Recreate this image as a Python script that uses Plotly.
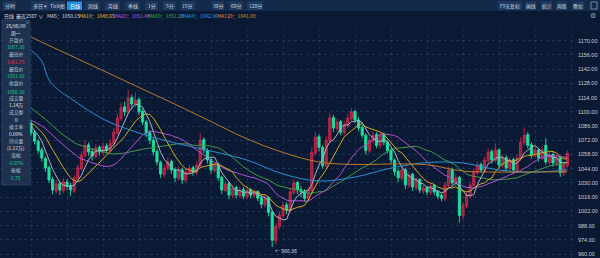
import pandas as pd
import plotly.graph_objects as go

# ---------------- data ----------------
history_close = [1148, 1144, 1139, 1135, 1130, 1126, 1121, 1117, 1112, 1108,
                 1104, 1100, 1097, 1095, 1093, 1096, 1094, 1091, 1090, 1088,
                 1092, 1095, 1090, 1093, 1088, 1091, 1087, 1085, 1088]

open_ = [1089, 1079.5, 1071, 1062.5, 1054, 1045, 1033.5, 1022, 1029.5, 1022.5,
         1031, 1027.5, 1022, 1034, 1044, 1057, 1067.5, 1061, 1056, 1065,
         1060, 1066.5, 1061.5, 1068.5, 1079, 1093.5, 1105, 1099.5, 1114, 1107,
         1112, 1100.5, 1090, 1079.5, 1072, 1061, 1050, 1038, 1044, 1051,
         1043, 1034.5, 1043, 1032.5, 1040, 1045, 1040, 1047, 1072.5, 1062,
         1053, 1042, 1048, 1035.5, 1022.5, 1029.5, 1017.5, 1025.5, 1017.5, 1023.5,
         1016.5, 1023.5, 1017.5, 1021.5, 1015.5, 1008.5, 1015.5, 1001, 973, 987,
         998, 1008.5, 1002.5, 1020.5, 1030.5, 1023.5, 1021, 1014.5, 1022.5, 1059.5,
         1075.5, 1065, 1046.5, 1071.5, 1094.5, 1083.5, 1090.5, 1079.5, 1086.5, 1093.5,
         1100.5, 1092, 1084.5, 1077, 1061.5, 1071.5, 1077.5, 1066.5, 1077.5, 1070,
         1062.5, 1052.5, 1041.5, 1034.5, 1043, 1027.5, 1038.5, 1025.5, 1033.5, 1022,
         1025.5, 1020.5, 1027.5, 1021.5, 1017.5, 1014.5, 1027.5, 1043, 1029.5, 1035.5,
         997.5, 1007.5, 1017.5, 1027.5, 1040, 1048, 1042, 1052, 1061, 1052,
         1062.5, 1047, 1055, 1044, 1053, 1042, 1054, 1069.5, 1077.5, 1067.5,
         1057, 1062.5, 1054, 1067, 1050, 1058, 1049, 1055, 1039.5, 1047]

high = [1092, 1082, 1073, 1065, 1056, 1047, 1036, 1033, 1032, 1035,
        1034, 1030, 1038, 1048, 1061, 1072, 1070, 1064, 1068, 1067,
        1070, 1069, 1073, 1084, 1098, 1109, 1110, 1121.5, 1117, 1119,
        1114, 1103, 1092, 1082, 1074, 1063, 1052, 1048, 1055, 1053,
        1045, 1046, 1045, 1044, 1048, 1047, 1051, 1079, 1075, 1064,
        1055, 1051, 1050, 1037, 1032, 1031, 1028, 1027, 1026, 1026,
        1026, 1025, 1024, 1023, 1018, 1018, 1017, 1003, 991, 1002,
        1012, 1011, 1025, 1034, 1032, 1027, 1024, 1026, 1065, 1080,
        1078, 1067, 1076, 1099, 1097, 1093, 1092, 1091, 1098, 1103.7,
        1102, 1095, 1087, 1079, 1075, 1081, 1080, 1080, 1080, 1072,
        1064, 1054, 1044, 1046, 1045, 1041, 1040, 1036, 1035, 1028,
        1027, 1030, 1029, 1023, 1020, 1031, 1046, 1045, 1038, 1037,
        1011, 1021, 1031, 1044, 1051, 1050, 1056, 1064, 1063, 1069,
        1064, 1058, 1057, 1056, 1055, 1058, 1075, 1084, 1080, 1070,
        1066, 1064, 1066, 1074, 1061, 1060, 1058, 1057, 1051, 1062]

low = [1076, 1068, 1059, 1051, 1041, 1030, 1019, 1019.5, 1018, 1020,
       1023, 1017, 1020, 1031, 1042, 1055, 1057, 1052, 1054, 1057,
       1058, 1059, 1060, 1066, 1077, 1091, 1096, 1098, 1103, 1105,
       1097, 1087, 1075, 1068, 1057, 1047, 1035, 1035, 1042, 1039,
       1031, 1032, 1029, 1030, 1038, 1037, 1038, 1045, 1059, 1049,
       1039, 1040, 1032, 1019, 1021, 1014, 1015, 1015, 1015, 1014,
       1014, 1015, 1015, 1012, 1005, 1006, 997, 966.86, 970, 984,
       995, 999, 1000, 1018, 1019, 1016, 1011, 1012, 1020, 1057,
       1061, 1044, 1045, 1069, 1080, 1081, 1077, 1077, 1084, 1091,
       1089, 1081, 1074, 1058, 1059, 1069, 1064, 1064, 1067, 1059,
       1049, 1037, 1031, 1032, 1024, 1025, 1022, 1023, 1020, 1019,
       1018, 1018, 1018, 1014, 1012, 1012, 1026, 1027, 1027, 991,
       994, 1005, 1015, 1025, 1038, 1040, 1040, 1050, 1049, 1050,
       1045, 1045, 1041, 1042, 1039, 1040, 1052, 1067, 1064, 1054,
       1055, 1051, 1052, 1048, 1048, 1046, 1047, 1036, 1037, 1045]

close = [1079, 1071, 1062, 1054.5, 1044.6, 1033, 1023, 1029, 1023, 1031,
         1027, 1023, 1035, 1045, 1057.5, 1067, 1060.5, 1056.5, 1064.5, 1060.5,
         1066, 1062, 1069, 1080, 1094, 1104, 1100, 1113.6, 1107.7, 1111.6,
         1100, 1090, 1079, 1072, 1060.5, 1050.6, 1038.8, 1044.6, 1050.6, 1042.7,
         1035, 1042.7, 1033, 1040.7, 1044.6, 1040.7, 1047.6, 1072, 1062.4, 1052.5,
         1042.7, 1047.6, 1035, 1023, 1029, 1018, 1025, 1018, 1023, 1017,
         1023, 1018, 1021, 1015, 1009, 1015, 1001, 973.6, 987.4, 998.3,
         1008, 1003, 1021, 1030, 1023, 1021, 1015, 1023, 1060, 1075,
         1065, 1047, 1072, 1094, 1084, 1090, 1080, 1087, 1094, 1100,
         1092, 1084, 1077, 1062, 1072, 1077, 1067, 1077, 1070, 1062,
         1052.5, 1041, 1035, 1042.7, 1028, 1038, 1026, 1033, 1023, 1025,
         1021, 1027, 1021, 1017, 1015, 1028, 1042.7, 1030, 1035, 998,
         1008, 1018, 1028, 1040.7, 1047.6, 1042.7, 1052.5, 1060.4, 1052.5, 1062.4,
         1047.6, 1054.5, 1044.6, 1052.5, 1042.7, 1054.5, 1070, 1077, 1067, 1057.5,
         1062.4, 1054.5, 1062.4, 1050.6, 1057.5, 1049.6, 1054.5, 1040, 1047.6, 1059]

ma60_idx = [0, 3, 5, 8, 10, 20, 30, 40, 50, 60, 70, 80, 90, 100, 110, 120, 130, 140, 149]
ma60_val = [1160.8, 1150.0, 1131.3, 1120.5, 1115.6, 1092.9, 1079.1, 1069.3, 1061.4, 1052.5,
            1038.8, 1031.9, 1035.8, 1044.6, 1050.1, 1049.6, 1042.7, 1040.7, 1043.0]
ma120_idx = [0, 10, 20, 30, 40, 50, 60, 70, 80, 90, 100, 110, 120, 130, 140, 149]
ma120_val = [1173.6, 1157.0, 1140.6, 1124.0, 1107.5, 1090.4, 1073.4, 1060.0, 1050.6, 1048.1,
             1048.6, 1047.9, 1041.7, 1040.7, 1040.7, 1041.1]

y_ticks = [960, 974, 988, 1002, 1016, 1030, 1044, 1058, 1072, 1086, 1100, 1114, 1128, 1142, 1156, 1170]

header_items = [("日线", "#d8dee6"), ("最近2507 ∨", "#d8dee6"), ("MA5：1050.15", "#d8dee6"),
                ("MA10：1048.65", "#e6c229"), ("MA20：1051.48", "#c455dd"),
                ("MA30：1051.28", "#46b04a"), ("MA60：1042.96", "#2b9be0"),
                ("MA120：1041.08", "#e0922a")]
header_x = [2, 14, 45, 77, 112, 146, 180, 215]

toolbar_left = ["分时", "多日 ▾", "Tick图", "日线", "周线", "月线", "季线", "1分", "5分", "15分", "30分", "60分", "120分"]
toolbar_left_x = [(3, 16), (31, 49), (50, 65), (67, 82), (85, 100), (105, 120), (125, 140),
                  (145, 158), (163, 176), (181, 195), (212, 224), (229, 243), (247, 263)]
toolbar_right = ["F9无复权", "画线", "统计", "两路", "叠加"]
toolbar_right_x = [(498, 522), (525, 536), (541, 552), (556, 567), (572, 584)]

info_rows = [("25/06/09", "#e8edf2"), ("周一", "#e8edf2"), ("开盘价", "#b8c2cc"), ("1057.30", "#1fd39a"),
             ("最高价", "#b8c2cc"), ("1061.75", "#e8334f"), ("最低价", "#b8c2cc"), ("1051.30", "#1fd39a"),
             ("收盘价", "#b8c2cc"), ("1056.30", "#1fd39a"), ("成交量", "#b8c2cc"), ("1.14万", "#e8edf2"),
             ("成交额", "#b8c2cc"), ("0", "#e8edf2"), ("换手率", "#b8c2cc"), ("0.00%", "#e8edf2"),
             ("持仓量", "#b8c2cc"), ("(1.12万)", "#e8edf2"), ("涨幅", "#b8c2cc"), ("-0.07%", "#1fd39a"),
             ("振幅", "#b8c2cc"), ("0.75", "#1fd39a")]
info_y = [25, 33, 40, 47, 54, 61.5, 68.5, 75.5, 83, 91, 98, 105, 112, 119, 126.5, 133,
          140.5, 148, 155, 162, 169.5, 177]

low_label = "← 966.86"

# ---------------- figure ----------------
W, H = 600, 258
ML, MR, MT, MB = 0, 26, 28, 0
PW, PH = W - ML - MR, H - MT - MB


def px(x):
    return (x - ML) / PW


def py(y):
    return (H - MB - y) / PH


n = len(close)
idx = list(range(n))
allc = pd.Series(history_close + close)
ma = {k: allc.rolling(k).mean().tolist()[-n:] for k in (5, 10, 20, 30)}

BG = "#0a1a35"
FONT = "Noto Sans CJK SC, Liberation Sans, sans-serif"

fig = go.Figure()
fig.add_trace(go.Candlestick(
    x=idx, open=open_, high=high, low=low, close=close,
    increasing=dict(line=dict(color="#c8284a", width=0.9), fillcolor="#a21f40"),
    decreasing=dict(line=dict(color="#1de0a0", width=0.9), fillcolor="#1de0a0"),
    whiskerwidth=0, hoverinfo="skip"))

line_specs = [(ma[30], "#3f9a45"), (ma[20], "#b452cc"), (ma[10], "#d6a81c"), (ma[5], "#aab4c2")]
for vals, col in line_specs:
    fig.add_trace(go.Scatter(x=idx, y=vals, mode="lines", line=dict(color=col, width=1.0),
                             hoverinfo="skip"))
fig.add_trace(go.Scatter(x=ma60_idx, y=ma60_val, mode="lines",
                         line=dict(color="#2a8fd0", width=1.0, shape="spline"), hoverinfo="skip"))
fig.add_trace(go.Scatter(x=ma120_idx, y=ma120_val, mode="lines",
                         line=dict(color="#b8782a", width=1.0, shape="spline"), hoverinfo="skip"))

x0 = -31 / 3.6
fig.update_layout(
    width=W, height=H, margin=dict(l=ML, r=MR, t=MT, b=MB, pad=0),
    paper_bgcolor=BG, plot_bgcolor=BG, showlegend=False, boxgap=0.15,
    font=dict(family=FONT, size=6, color="#c8d0da"),
    xaxis=dict(range=[x0, x0 + PW / 3.6], showticklabels=False, zeroline=False, showline=False,
               showgrid=True, gridcolor="rgba(70,100,145,0.28)", griddash="dot", gridwidth=1,
               dtick=10, tick0=0, rangeslider=dict(visible=False), fixedrange=True),
    yaxis=dict(range=[956.1, 1182.5], side="right", tickvals=y_ticks,
               ticktext=[f"{v:.2f}" for v in y_ticks], tickfont=dict(size=5.5, color="#c8d0da",
                                                                   family="Liberation Sans, sans-serif"),
               showgrid=True, gridcolor="rgba(70,100,145,0.35)", griddash="dot", gridwidth=1,
               zeroline=False, showline=False, ticks="", ticklabelstandoff=3, fixedrange=True),
)

shapes = []
annotations = []
# toolbar band
shapes.append(dict(type="rect", xref="paper", yref="paper", x0=px(0), x1=px(W), y0=py(11), y1=py(0),
                   fillcolor="#142a4b", line=dict(width=0), layer="above"))
for lab, (a, b) in zip(toolbar_left, toolbar_left_x):
    hl = lab == "日线"
    shapes.append(dict(type="rect", xref="paper", yref="paper", x0=px(a), x1=px(b), y0=py(10), y1=py(1.5),
                       fillcolor="#1f8fe6" if hl else "#1e3a60", line=dict(width=0), layer="above"))
    annotations.append(dict(x=px((a + b) / 2), y=py(5.8), xref="paper", yref="paper", text=lab,
                            showarrow=False, font=dict(size=5, color="#ffffff" if hl else "#c8d2de"),
                            xanchor="center", yanchor="middle"))
for lab, (a, b) in zip(toolbar_right, toolbar_right_x):
    shapes.append(dict(type="rect", xref="paper", yref="paper", x0=px(a), x1=px(b), y0=py(10), y1=py(1.5),
                       fillcolor="#1e3a60", line=dict(width=0), layer="above"))
    annotations.append(dict(x=px((a + b) / 2), y=py(5.8), xref="paper", yref="paper", text=lab,
                            showarrow=False, font=dict(size=4.8, color="#c8d2de"),
                            xanchor="center", yanchor="middle"))
shapes.append(dict(type="rect", xref="paper", yref="paper", x0=px(591), x1=px(597), y0=py(9), y1=py(2),
                   fillcolor="rgba(0,0,0,0)", line=dict(width=0.8, color="#8a9ab0"), layer="above"))
annotations.append(dict(x=px(593), y=py(15.5), xref="paper", yref="paper", text="⚙", showarrow=False,
                        font=dict(size=7, color="#9aa8b8"), xanchor="center", yanchor="middle"))

# header row with MA values
for (txt, col), xx in zip(header_items, header_x):
    annotations.append(dict(x=px(xx), y=py(15.7), xref="paper", yref="paper", text=txt, showarrow=False,
                            font=dict(size=5, color=col), xanchor="left", yanchor="middle"))

# info box
shapes.append(dict(type="rect", xref="paper", yref="paper", x0=px(2), x1=px(30), y0=py(185), y1=py(20),
                   fillcolor="rgba(32,52,82,0.93)", line=dict(width=0.6, color="#34507a"), layer="above"))
for (txt, col), yy in zip(info_rows, info_y):
    annotations.append(dict(x=px(16), y=py(yy), xref="paper", yref="paper", text=txt, showarrow=False,
                            font=dict(size=4.8, color=col), xanchor="center", yanchor="middle"))
annotations.append(dict(x=px(27.5), y=py(22), xref="paper", yref="paper", text="×", showarrow=False,
                        font=dict(size=5, color="#9aa8b8"), xanchor="center", yanchor="middle"))

# lowest price marker
low_i = low.index(min(low))
annotations.append(dict(x=low_i, y=min(low), xref="x", yref="y", text=low_label, showarrow=False,
                        font=dict(size=5.2, color="#d0d8e2"), xanchor="left", yanchor="middle",
                        xshift=1, yshift=-3))

fig.update_layout(shapes=shapes, annotations=annotations)
fig.write_html("out.html")
